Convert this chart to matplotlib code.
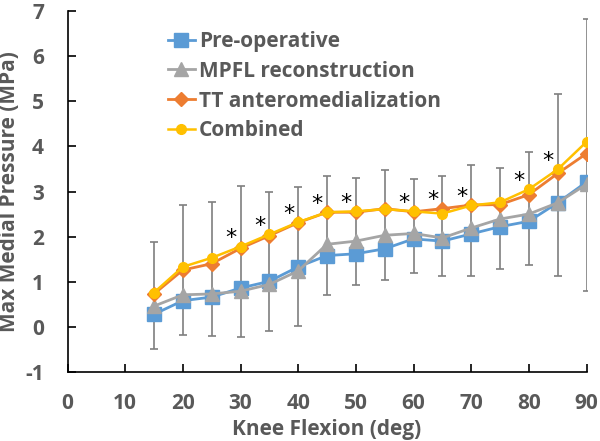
import matplotlib
matplotlib.use('Agg')
import matplotlib.pyplot as plt
import numpy as np

plt.rcParams['font.family'] = ['Open Sans', 'DejaVu Sans']
plt.rcParams['font.weight'] = 'bold'
plt.rcParams['axes.unicode_minus'] = False

# Knee flexion angles (deg)
flexion = [15, 20, 25, 30, 35, 40, 45, 50, 55, 60, 65, 70, 75, 80, 85, 90]

# Max medial pressure (MPa) for each condition
pre_op = [0.28, 0.58, 0.66, 0.86, 1.01, 1.33, 1.58, 1.62, 1.73, 1.95, 1.90, 2.06, 2.22, 2.34, 2.75, 3.21]
mpfl = [0.46, 0.71, 0.73, 0.79, 0.94, 1.24, 1.83, 1.90, 2.03, 2.07, 1.97, 2.19, 2.39, 2.50, 2.75, 3.16]
tt_am = [0.73, 1.26, 1.40, 1.74, 2.02, 2.31, 2.54, 2.54, 2.62, 2.55, 2.62, 2.70, 2.71, 2.93, 3.40, 3.84]
combined = [0.76, 1.33, 1.53, 1.78, 2.05, 2.32, 2.54, 2.56, 2.61, 2.56, 2.51, 2.69, 2.76, 3.05, 3.49, 4.10]

# error bar extents (top / bottom)
err_top = [1.87, 2.70, 2.76, 3.13, 2.99, 3.10, 3.34, 3.30, 3.47, 3.28, 3.35, 3.58, 3.51, 3.88, 5.16, 6.82]
err_bottom = [-0.48, -0.18, -0.20, -0.23, -0.09, 0.02, 0.71, 0.93, 1.04, 1.19, 1.12, 1.13, 1.28, 1.38, 1.12, 0.80]

# angles flagged as significant
sig_angles = [30, 35, 40, 45, 50, 60, 65, 70, 80, 85]

grey_txt = '#595959'

fig = plt.figure(figsize=(6, 4.41), dpi=100)
ax = fig.add_axes([0.1125, 0.1565, 0.865, 0.8185])

tt_arr = np.array(tt_am)
yerr = [tt_arr - np.array(err_bottom), np.array(err_top) - tt_arr]
ax.errorbar(flexion, tt_am, yerr=yerr, fmt='none', ecolor='#7f7f7f',
            elinewidth=1.2, capsize=3, capthick=1.2, zorder=1)

ax.plot(flexion, pre_op, color='#5B9BD5', marker='s', markersize=10, lw=2, label='Pre-operative', zorder=3)
ax.plot(flexion, mpfl, color='#A5A5A5', marker='^', markersize=10, lw=2, label='MPFL reconstruction', zorder=4)
ax.plot(flexion, tt_am, color='#ED7D31', marker='D', markersize=7, lw=2, label='TT anteromedialization', zorder=5)
ax.plot(flexion, combined, color='#FFC000', marker='o', markersize=7, lw=1.8, label='Combined', zorder=6)

top_vals = np.maximum(tt_arr, np.array(combined))
for a in sig_angles:
    i = flexion.index(a)
    ax.annotate('*', (a, top_vals[i]), xytext=(-7, 6), textcoords='offset points',
                ha='center', va='center', fontsize=16, color='black', fontweight='normal',
                family='DejaVu Sans')

ax.set_xlim(0, 90)
ax.set_ylim(-1, 7)
ax.set_xticks(range(0, 91, 10))
ax.set_yticks(range(-1, 8))
ax.spines['top'].set_visible(False)
ax.spines['right'].set_visible(False)
ax.spines['left'].set_linewidth(1.2)
ax.spines['bottom'].set_linewidth(1.2)
ax.tick_params(direction='in', length=6, width=1.2, labelsize=15, labelcolor=grey_txt)
ax.tick_params(axis='x', pad=15)
ax.tick_params(axis='y', pad=17)

ax.set_xlabel('Knee Flexion (deg)', fontsize=15, color=grey_txt, fontweight='bold', labelpad=4)
ax.set_ylabel('Max Medial Pressure (MPa)', fontsize=15, color=grey_txt, fontweight='bold')
ax.yaxis.set_label_coords(-0.092, 0.5)

leg = ax.legend(loc='upper left', bbox_to_anchor=(0.165, 0.985), frameon=False,
                fontsize=15, handlelength=1.3, handletextpad=0.2, labelspacing=0.42,
                borderaxespad=0.3)
for t in leg.get_texts():
    t.set_color(grey_txt)

fig.savefig('out.png', dpi=100)
